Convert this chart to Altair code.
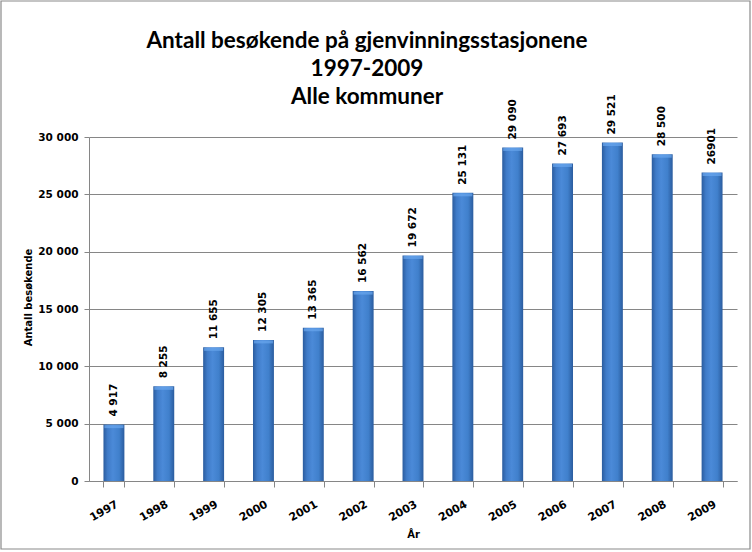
import altair as alt
import pandas as pd

years = ["1997", "1998", "1999", "2000", "2001", "2002", "2003",
         "2004", "2005", "2006", "2007", "2008", "2009"]
visitors = [4917, 8255, 11655, 12305, 13365, 16562, 19672,
            25131, 29090, 27693, 29521, 28500, 26901]
value_labels = ["4 917", "8 255", "11 655", "12 305", "13 365", "16 562", "19 672",
                "25 131", "29 090", "27 693", "29 521", "28 500", "26901"]
y_ticks = [0, 5000, 10000, 15000, 20000, 25000, 30000]

df = pd.DataFrame({"year": years, "visitors": visitors, "label": value_labels})

FONT = "DejaVu Sans"

x_enc = alt.X(
    "year:N",
    sort=years,
    title="År",
    scale=alt.Scale(paddingInner=0.58, paddingOuter=0.29),
    axis=alt.Axis(
        labelAngle=-30,
        labelAlign="right",
        labelBaseline="top",
        labelPadding=11,
        labelFont=FONT,
        labelFontWeight="bold",
        labelFontSize=11,
        labelColor="#000000",
        tickBand="extent",
        tickColor="#868686",
        tickSize=6,
        domainColor="#868686",
        grid=False,
        titleFont=FONT,
        titleFontWeight="bold",
        titleFontSize=10,
        titleColor="#000000",
        titlePadding=7,
    ),
)

y_enc = alt.Y(
    "visitors:Q",
    title="Antall besøkende",
    scale=alt.Scale(domain=[0, 30000], nice=False),
    axis=alt.Axis(
        values=y_ticks,
        labelExpr="replace(format(datum.value, ',d'), ',', ' ')",
        labelFont=FONT,
        labelFontWeight="bold",
        labelFontSize=10.5,
        labelColor="#000000",
        labelPadding=6,
        tickColor="#868686",
        tickSize=5,
        domainColor="#868686",
        gridColor="#868686",
        gridWidth=1,
        titleFont=FONT,
        titleFontWeight="bold",
        titleFontSize=10,
        titleColor="#000000",
        titlePadding=4,
        titleY=160,
    ),
)

grad = alt.Gradient(
    gradient="linear",
    x1=0, x2=1, y1=0, y2=0,
    stops=[
        alt.GradientStop(color="#2b5c9e", offset=0),
        alt.GradientStop(color="#3f7bc8", offset=0.2),
        alt.GradientStop(color="#4b8ad8", offset=0.45),
        alt.GradientStop(color="#4080cc", offset=0.75),
        alt.GradientStop(color="#2b5c9e", offset=1),
    ],
)

base = alt.Chart(df)

border = alt.Chart(pd.DataFrame({"b": [0]})).mark_rect(
    fill=None, stroke="#8a8a8a", strokeWidth=1.2, clip=False
).encode(
    x=alt.value(-88), x2=alt.value(661), y=alt.value(-136), y2=alt.value(412)
)

bars = base.mark_bar(color=grad).encode(x=x_enc, y=y_enc)

caps = base.mark_tick(color="#6aa6ee", thickness=3, size=19, yOffset=2).encode(
    x=alt.X("year:N", sort=years),
    y=alt.Y("visitors:Q"),
)

labels = base.mark_text(
    angle=270, align="left", baseline="middle", dx=8,
    font=FONT, fontWeight="bold", fontSize=10.5, color="#000000",
).encode(
    x=alt.X("year:N", sort=years),
    y=alt.Y("visitors:Q"),
    text="label:N",
)

chart = (
    alt.layer(bars, caps, labels, border)
    .properties(
        width=648,
        height=344,
        autosize=alt.AutoSizeParams(type="none"),
        padding={"left": 89, "top": 137, "right": 15, "bottom": 71},
        title=alt.TitleParams(
            text=["Antall besøkende på gjenvinningsstasjonene", "1997-2009", "Alle kommuner"],
            font="Lato",
            fontWeight="bold",
            fontSize=22.5,
            lineHeight=28,
            color="#000000",
            anchor="middle",
            frame="group",
            dx=-46,
            offset=-108,
        ),
        background="#ffffff",
    )
    .configure_view(stroke=None)
)

chart.save("out.html", embed_options={"renderer": "svg", "actions": False})
